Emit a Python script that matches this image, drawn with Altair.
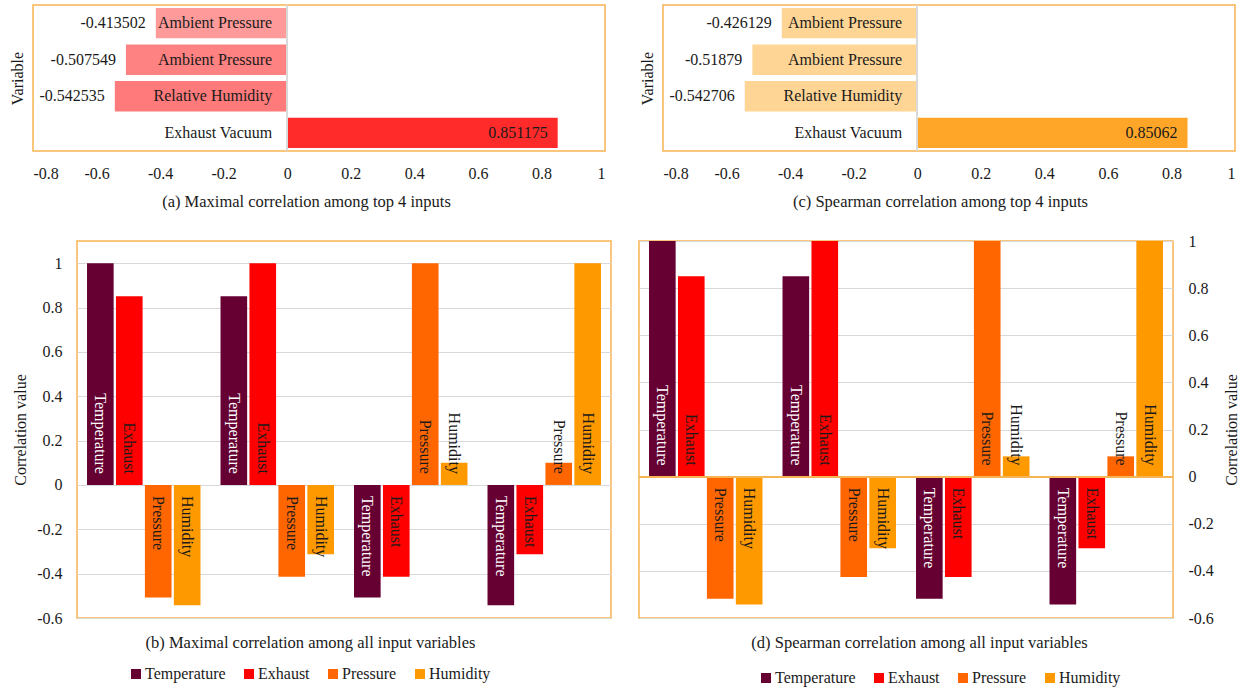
import altair as alt
import pandas as pd

FONT = "Liberation Serif"
FRAME = "#F6B452"
GRID = "#D9D9D9"
INK = "#1a1a1a"

# Correlation of the four strongest inputs with the target
top_labels = ["Ambient Pressure", "Ambient Pressure", "Relative Humidity", "Exhaust Vacuum"]
maximal_top = [-0.413502, -0.507549, -0.542535, 0.851175]
spearman_top = [-0.426129, -0.51879, -0.542706, 0.85062]
maximal_top_colors = ["#FF9A9A", "#FF8282", "#FF7B7B", "#FF2B2B"]
spearman_top_colors = ["#FFD596", "#FFD596", "#FFD596", "#FFA628"]
x_ticks_top = [-0.8, -0.6, -0.4, -0.2, 0, 0.2, 0.4, 0.6, 0.8, 1]

# Pairwise correlation among all input variables (row = group, column = bar)
variables = ["Temperature", "Exhaust", "Pressure", "Humidity"]
variable_colors = ["#660033", "#FF0000", "#FF6600", "#FF9900"]
label_inks = ["white", INK, INK, INK]
maximal_matrix = [
    [1.0, 0.851175, -0.507549, -0.542535],
    [0.851175, 1.0, -0.413502, -0.312],
    [-0.507549, -0.413502, 1.0, 0.1],
    [-0.542535, -0.312, 0.1, 1.0],
]
spearman_matrix = [
    [1.0, 0.85062, -0.51879, -0.542706],
    [0.85062, 1.0, -0.426129, -0.304],
    [-0.51879, -0.426129, 1.0, 0.086],
    [-0.542706, -0.304, 0.086, 1.0],
]
y_ticks_bottom = [-0.6, -0.4, -0.2, 0, 0.2, 0.4, 0.6, 0.8, 1]

PLAIN = "'' + datum.value"


def top_panel(values, colors, caption, title_x):
    df = pd.DataFrame({
        "rank": list(range(len(values))),
        "name": top_labels,
        "value": values,
        "text": [str(v) for v in values],
        "color": colors,
    })
    base = alt.Chart(df)
    x = alt.X(
        "value:Q",
        scale=alt.Scale(domain=[-0.8, 1], nice=False),
        axis=alt.Axis(values=x_ticks_top, labelExpr=PLAIN, grid=False, domain=False,
                      ticks=False, tickSize=0, labelPadding=14, title=caption,
                      titlePadding=12, titleX=title_x, titleAlign="center",
                      titleFontSize=16.5),
    )
    y = alt.Y(
        "rank:O",
        scale=alt.Scale(paddingInner=0.17, paddingOuter=0.08),
        axis=alt.Axis(title="Variable", labels=False, ticks=False, domain=False, titlePadding=8),
    )
    bars = base.mark_bar().encode(x=x, y=y, color=alt.Color("color:N", scale=None))
    zero = base.mark_rule(color=GRID, strokeWidth=1.5).encode(x=alt.datum(0))
    names = base.mark_text(align="right", baseline="middle", dx=-15).encode(
        x=alt.datum(0), y=y, text="name:N")
    nums = base.mark_text(align="right", baseline="middle", dx=-10).encode(
        x=x, y=y, text="text:N")
    return alt.layer(bars, zero, names, nums).properties(width=572, height=146)


def matrix_panel(matrix, caption, title_x, ymax, orient, legend_x, legend_y, zero_color):
    rows = []
    for gi, g in enumerate(variables):
        for vi, v in enumerate(variables):
            rows.append({"group": g, "var": v, "value": matrix[gi][vi], "ink": label_inks[vi]})
    df = pd.DataFrame(rows)
    base = alt.Chart(df)
    x = alt.X(
        "group:N", sort=variables,
        scale=alt.Scale(paddingInner=0.15, paddingOuter=0.075),
        axis=alt.Axis(labels=False, ticks=False, domain=False, title=caption,
                      titlePadding=16, titleX=title_x, titleAlign="center",
                      titleFontSize=16.5),
    )
    xo = alt.XOffset("var:N", sort=variables, scale=alt.Scale(paddingInner=0.08))
    if orient == "right":
        y_axis = alt.Axis(orient="right", values=y_ticks_bottom, labelExpr=PLAIN, grid=True,
                          gridColor=GRID, domain=False, ticks=False, tickSize=0,
                          labelPadding=15, title="Correlation value", titleAngle=270,
                          titleBaseline="top", titlePadding=10)
    else:
        y_axis = alt.Axis(orient="left", values=y_ticks_bottom, labelExpr=PLAIN, grid=True,
                          gridColor=GRID, domain=False, ticks=False, tickSize=0,
                          labelPadding=15, title="Correlation value", titlePadding=8)
    y = alt.Y("value:Q", scale=alt.Scale(domain=[-0.6, ymax], nice=False), axis=y_axis)
    bars = base.mark_bar().encode(
        x=x, xOffset=xo, y=y,
        color=alt.Color(
            "var:N", sort=variables,
            scale=alt.Scale(domain=variables, range=variable_colors),
            legend=alt.Legend(orient="none", legendX=legend_x, legendY=legend_y,
                              direction="horizontal", title=None, symbolType="square",
                              symbolSize=100, symbolStrokeWidth=0, labelOffset=1,
                              columnPadding=15),
        ),
    )
    pos = base.transform_filter("datum.value >= 0").mark_text(
        angle=90, align="right", baseline="middle", dx=-11
    ).encode(x=x, xOffset=xo, y=alt.datum(0), text="var:N",
             fill=alt.Fill("ink:N", scale=None))
    neg = base.transform_filter("datum.value < 0").mark_text(
        angle=90, align="left", baseline="middle", dx=11
    ).encode(x=x, xOffset=xo, y=alt.datum(0), text="var:N",
             fill=alt.Fill("ink:N", scale=None))
    layers = [bars]
    if zero_color:
        layers.append(base.mark_rule(color=zero_color, strokeWidth=1.5).encode(y=alt.datum(0)))
    layers += [pos, neg]
    return alt.layer(*layers).properties(width=534, height=377)


panel_a = top_panel(maximal_top, maximal_top_colors,
                    "(a) Maximal correlation among top 4 inputs", 273)
panel_c = top_panel(spearman_top, spearman_top_colors,
                    "(c) Spearman correlation among top 4 inputs", 277)
panel_b = matrix_panel(maximal_matrix, "(b) Maximal correlation among all input variables",
                       233, 1.1, "left", 51, 425, None)
panel_d = matrix_panel(spearman_matrix, "(d) Spearman correlation among all input variables",
                       280, 1.0, "right", 119, 429, FRAME)

# empty column that shifts the lower row to the right
spacer = alt.Chart(pd.DataFrame({"v": [0]})).mark_point(opacity=0).properties(
    width=16, height=10, view=alt.ViewBackground(stroke="transparent"))

row1 = alt.hconcat(panel_a, panel_c, spacing=58, bounds="flush")
row2 = alt.hconcat(spacer, panel_b, panel_d, spacing=28, bounds="flush").resolve_scale(
    color="independent").resolve_legend(color="independent")

chart = alt.vconcat(row1, row2, spacing=21).resolve_scale(
    color="independent").resolve_legend(color="independent").properties(
    padding={"left": 8, "top": 3, "right": 0, "bottom": 0}
).configure(font=FONT).configure_axis(
    labelFont=FONT, titleFont=FONT, labelFontSize=16, titleFontSize=16,
    labelColor=INK, titleColor=INK, titleFontWeight="normal",
).configure_legend(labelFont=FONT, labelFontSize=16, labelColor=INK).configure_text(
    font=FONT, fontSize=16, color=INK
).configure_view(stroke=FRAME, strokeWidth=1.5)

chart.save("out.html", embed_options={"renderer": "svg", "actions": False})
